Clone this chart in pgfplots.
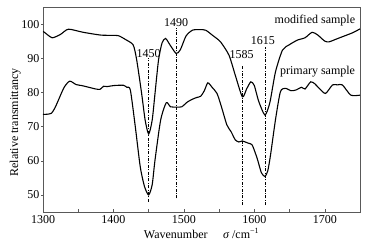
\documentclass[border=0pt]{standalone}
\usepackage{fontspec}
\setmainfont{Liberation Serif}
\usepackage{pgfplots}
\pgfplotsset{compat=1.18}
\begin{document}
\begin{tikzpicture}
\begin{axis}[
  width=317pt, height=205pt, scale only axis,
  xmin=1300, xmax=1750, ymin=45, ymax=105,
  xtick={1300,1400,1500,1600,1700},
  minor x tick num=1,
  ytick={50,60,70,80,90,100},
  xtick pos=bottom, ytick pos=left,
  tick align=inside,
  major tick length=3pt, minor tick length=3pt,
  ytick style={xshift=-2pt},
  axis line style={black!65, line width=0.5pt},
  every tick/.style={black!65, line width=0.5pt},
  font=\fontsize{12}{14}\selectfont,
  tick label style={font=\fontsize{12}{14}\selectfont},
  /pgf/number format/assume math mode=true,
  /pgf/number format/set thousands separator={},
  xlabel={Wavenumber\hspace{1.3em}{\itshape σ} /cm\textsuperscript{−1}},
  ylabel={Relative transmittancy},
  xlabel style={yshift=2pt},
  ylabel style={at={(ticklabel cs:0.437)}, yshift=-6pt},
  clip=false,
]
\addplot[black, line width=1.1pt, smooth, tension=0.4] coordinates {
(1300,97.8) (1302,97.6) (1313,96.0) (1325,97.0) (1336,98.5) (1357,97.6)
(1381,96.8) (1395,96.7) (1407,96.6) (1417,95.5) (1428,93.9) (1433,89.5)
(1440,79.7) (1445,71.9) (1450,67.8) (1455,71.9) (1459,79.7) (1464,89.5)
(1469,94.5) (1474,95.8) (1480,94.0) (1489,91.4) (1495,92.5) (1503,96.5)
(1512,98.2) (1522,98.4) (1531,98.2) (1542,96.5) (1552,94.8) (1564,90.9)
(1573,85.0) (1583,78.7) (1589,81.0) (1595,83.1) (1600,82.0) (1606,77.5)
(1615,73.4) (1622,77.0) (1630,86.0) (1640,92.4) (1650,94.0) (1661,95.3)
(1672,96.0) (1682,97.6) (1690,96.8) (1700,95.0) (1706,94.8) (1715,95.5)
(1725,96.3) (1740,97.5) (1750,98.6)
};
\addplot[black, line width=1.1pt, smooth, tension=0.4] coordinates {
(1300,73.6) (1305,73.6) (1312,73.9) (1317,75.5) (1322,77.8) (1330,81.5)
(1338,83.3) (1347,82.3) (1355,82.0) (1365,81.5) (1375,81.0) (1381,80.9)
(1386,81.8) (1391,81.7) (1400,82.0) (1414,82.1) (1419,81.5) (1424,80.7)
(1431,70.0) (1438,58.3) (1444,52.5) (1450,50.0) (1455,53.0) (1459,60.2)
(1467,71.9) (1475,77.0) (1481,75.8) (1490,75.7) (1497,75.8) (1505,77.2)
(1512,78.0) (1518,78.5) (1524,78.9) (1529,80.5) (1534,82.8) (1540,81.5)
(1547,79.7) (1553,76.0) (1561,70.5) (1567,68.5) (1573,66.1) (1578,65.5)
(1583,65.8) (1587,65.5) (1592,65.1) (1597,64.6) (1604,60.7) (1610,56.5)
(1615,55.4) (1619,57.0) (1623,61.7) (1630,72.0) (1637,80.2) (1644,81.2)
(1652,80.5) (1659,80.7) (1667,81.5) (1672,81.0) (1680,83.1) (1686,82.5)
(1692,81.2) (1701,79.7) (1711,82.2) (1718,82.2) (1725,82.2) (1737,79.2)
(1750,79.2)
};
\addplot[black, line width=0.8pt, dash pattern=on 3pt off 1.5pt on 0.8pt off 1.5pt] coordinates {(1450,48) (1450,90)};
\addplot[black, line width=0.8pt, dash pattern=on 3pt off 1.5pt on 0.8pt off 1.5pt] coordinates {(1489,49) (1489,98.8)};
\addplot[black, line width=0.8pt, dash pattern=on 3pt off 1.5pt on 0.8pt off 1.5pt] coordinates {(1583,47) (1583,88)};
\addplot[black, line width=0.8pt, dash pattern=on 3pt off 1.5pt on 0.8pt off 1.5pt] coordinates {(1615,47) (1615,93.4)};
\node[font=\fontsize{12}{14}\selectfont] at (axis cs:1450,91.5) {1450};
\node[font=\fontsize{12}{14}\selectfont] at (axis cs:1489,100.5) {1490};
\node[font=\fontsize{12}{14}\selectfont] at (axis cs:1582,91) {1585};
\node[font=\fontsize{12}{14}\selectfont] at (axis cs:1612,95.3) {1615};
\node[font=\fontsize{12}{14}\selectfont, anchor=east] at (axis cs:1748,101) {modified sample};
\node[font=\fontsize{12}{14}\selectfont, anchor=east] at (axis cs:1748,86) {primary sample};
\end{axis}
\path (current axis.south west) ++(-43pt,-39pt) coordinate (bbA);
\path (current axis.north east) ++(10pt,7pt) coordinate (bbB);
\useasboundingbox (bbA) rectangle (bbB);
\end{tikzpicture}
\end{document}
